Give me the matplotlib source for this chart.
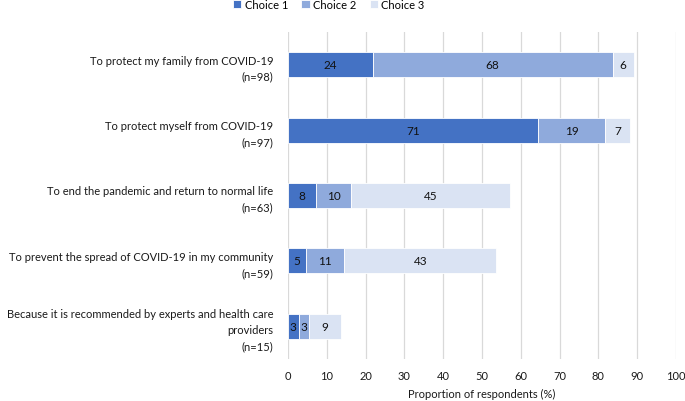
import numpy as np
import matplotlib.pyplot as plt

# Reasons for vaccination, counts per choice; bar length is share of all respondents
reasons = ['To protect my family from COVID-19\n(n=98)',
           'To protect myself from COVID-19\n(n=97)',
           'To end the pandemic and return to normal life\n(n=63)',
           'To prevent the spread of COVID-19 in my community\n(n=59)',
           'Because it is recommended by experts and health care\nproviders\n(n=15)']
choice1 = [24, 71, 8, 5, 3]
choice2 = [68, 19, 10, 11, 3]
choice3 = [6, 7, 45, 43, 9]
total = 110  # respondents
series = ['Choice 1', 'Choice 2', 'Choice 3']
colors = ['#4472C4', '#8FAADC', '#DAE3F3']

plt.rcParams['font.family'] = ['Lato', 'DejaVu Sans']
FS = 8


def main():
    fig = plt.figure(figsize=(6.85, 4.02), dpi=100)
    ax = fig.add_axes([0.4204, 0.1045, 0.5665, 0.8134])
    y = np.arange(len(reasons))
    left = np.zeros(len(reasons))
    for vals, name, col in zip([choice1, choice2, choice3], series, colors):
        pct = np.array(vals) / total * 100
        ax.barh(y, pct, left=left, height=0.385, color=col, label=name,
                edgecolor='white', linewidth=0.6, zorder=3)
        for yi, l, w, v in zip(y, left, pct, vals):
            ax.text(l + w / 2, yi, str(v), ha='center', va='center',
                    fontsize=8.5, color='#111111', zorder=4)
        left = left + pct
    ax.set_ylim(len(reasons) - 0.5, -0.5)
    ax.set_xlim(0, 100)
    ax.set_xticks(range(0, 101, 10))
    ax.set_yticks(y)
    ax.set_yticklabels(reasons, fontsize=FS, color='#1a1a1a', linespacing=1.55)
    ax.tick_params(axis='both', length=0, labelsize=FS, colors='#1a1a1a')
    ax.tick_params(axis='y', pad=10.5)
    ax.tick_params(axis='x', pad=8)
    ax.grid(axis='x', color='#d9d9d9', linewidth=0.9, zorder=0)
    for s in ax.spines.values():
        s.set_visible(False)
    ax.set_xlabel('Proportion of respondents (%)', fontsize=FS, color='#1a1a1a', labelpad=5)
    fig.legend(loc='upper center', bbox_to_anchor=(0.48, 1.025), ncol=3, frameon=False,
               fontsize=FS, handlelength=0.75, handleheight=0.75, handletextpad=0.3,
               columnspacing=1.2)
    fig.savefig('out.png', dpi=100)


main()
